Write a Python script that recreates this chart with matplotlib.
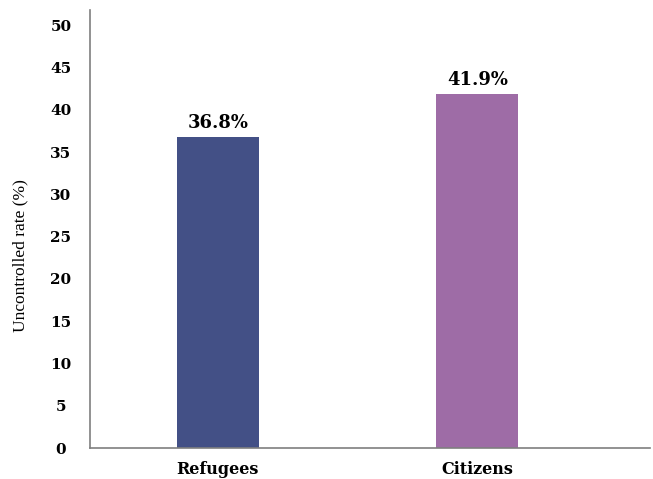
import matplotlib
matplotlib.use("Agg")
import matplotlib.pyplot as plt

categories = ["Refugees", "Citizens"]
values = [36.8, 41.9]
labels = ["36.8%", "41.9%"]
colors = ["#435086", "#9E6CA6"]
yticks = [0, 5, 10, 15, 20, 25, 30, 35, 40, 45, 50]

plt.rcParams['font.family'] = ['Liberation Serif', 'DejaVu Serif']
bold_font = ['DejaVu Serif', 'Liberation Serif']

fig = plt.figure(figsize=(6.53, 4.79), dpi=100)
ax = fig.add_axes([90/653, 31/479, 560/653, 438/479])

x = list(range(len(categories)))
ax.bar(x, values, width=0.316, color=colors)
for xi, v, lab in zip(x, values, labels):
    ax.text(xi, v + 0.6, lab, ha='center', va='bottom', fontsize=13,
            fontweight='bold', family=bold_font)

ax.set_xlim(-0.493, 1.665)
ax.set_ylim(0, 51.8)
ax.set_yticks(yticks)
ax.set_yticklabels([str(t) for t in yticks], fontsize=11, fontweight='bold',
                   family=bold_font)
ax.set_xticks(x)
ax.set_xticklabels(categories, fontsize=11.5, fontweight='bold', family=bold_font)
ax.tick_params(axis='both', length=0)
ax.tick_params(axis='y', pad=21)
ax.tick_params(axis='x', pad=9)
for lab in ax.get_yticklabels():
    lab.set_horizontalalignment('center')
ax.set_ylabel("Uncontrolled rate (%)", fontsize=12.5, family=['Liberation Serif'])
ax.yaxis.set_label_coords(-0.11, 0.44)

for s in ['top', 'right']:
    ax.spines[s].set_visible(False)
for s in ['left', 'bottom']:
    ax.spines[s].set_color('#7f7f7f')
    ax.spines[s].set_linewidth(1.2)

fig.savefig("out.png", dpi=100)
